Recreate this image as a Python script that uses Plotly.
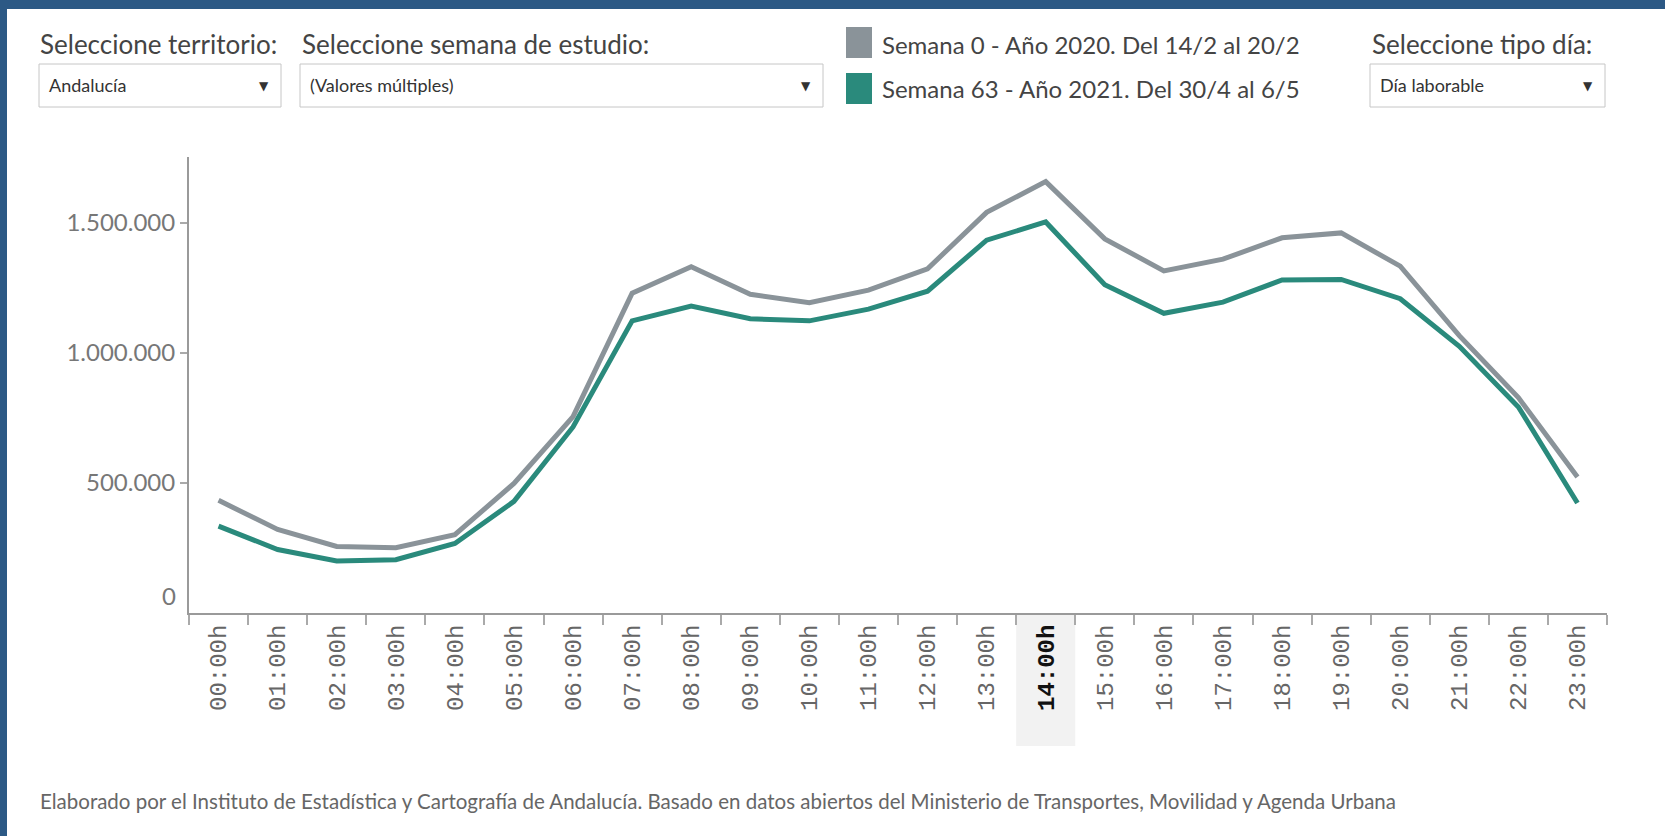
import plotly.graph_objects as go

# ---------------- data ----------------
hours = ["00:00h", "01:00h", "02:00h", "03:00h", "04:00h", "05:00h", "06:00h", "07:00h",
         "08:00h", "09:00h", "10:00h", "11:00h", "12:00h", "13:00h", "14:00h", "15:00h",
         "16:00h", "17:00h", "18:00h", "19:00h", "20:00h", "21:00h", "22:00h", "23:00h"]
highlight_hour = "14:00h"

series_names = ["Semana 0 - Año 2020. Del 14/2 al 20/2",
                "Semana 63 - Año 2021. Del 30/4 al 6/5"]

sem0 = [433000, 321000, 256000, 251000, 301000, 498000, 755000, 1229000,
        1331000, 1225000, 1193000, 1241000, 1323000, 1540000, 1658000, 1438000,
        1315000, 1360000, 1442000, 1461000, 1333000, 1066000, 828000, 523000]
sem63 = [334000, 244000, 200000, 205000, 267000, 429000, 715000, 1123000,
         1180000, 1131000, 1123000, 1168000, 1237000, 1433000, 1503000, 1262000,
         1152000, 1195000, 1280000, 1282000, 1208000, 1025000, 792000, 423000]

ytick_vals = [500000, 1000000, 1500000]
ytick_text = ["500.000", "1.000.000", "1.500.000"]
zero_label = "0"

filter_titles = ["Seleccione territorio:", "Seleccione semana de estudio:", "Seleccione tipo día:"]
filter_values = ["Andalucía", "(Valores múltiples)", "Día laborable"]
footer = ("Elaborado por el Instituto de Estadística y Cartografía de Andalucía. "
          "Basado en datos abiertos del Ministerio de Transportes, Movilidad y Agenda Urbana")

# ---------------- styling ----------------
W, H = 1665, 836
ML, MR, MT, MB = 189, 58, 157, 223
PW, PH = W - ML - MR, H - MT - MB

COL0 = "#8a9399"
COL63 = "#2a8a7c"
BLUE = "#2c5985"
NARROW = "Liberation Sans Narrow, Arial Narrow, Lato, sans-serif"
UI = "Lato, Liberation Sans, sans-serif"
MONO = "Liberation Mono, DejaVu Sans Mono, monospace"


def px(x):
    return (x - ML) / PW


def py(y):
    return (MT + PH - y) / PH


fig = go.Figure()
fig.add_trace(go.Scatter(x=hours, y=sem0, mode="lines", name=series_names[0],
                         line=dict(color=COL0, width=5), showlegend=False))
fig.add_trace(go.Scatter(x=hours, y=sem63, mode="lines", name=series_names[1],
                         line=dict(color=COL63, width=5), showlegend=False))

ticktext = [f"<b><span style='color:#111'>{h}</span></b>" if h == highlight_hour else h for h in hours]

shapes = []
annotations = []

# dark blue frame (top and left)
shapes.append(dict(type="rect", xref="paper", yref="paper", x0=px(0), x1=px(W), y0=py(9), y1=py(0),
                   fillcolor=BLUE, line=dict(width=0), layer="below"))
shapes.append(dict(type="rect", xref="paper", yref="paper", x0=px(0), x1=px(7), y0=py(H), y1=py(0),
                   fillcolor=BLUE, line=dict(width=0), layer="below"))

# highlighted column behind selected hour label
hi = hours.index(highlight_hour)
shapes.append(dict(type="rect", xref="x", yref="paper", x0=hi - 0.5, x1=hi + 0.5, y0=py(746), y1=py(614),
                   fillcolor="#f2f2f2", line=dict(width=0), layer="below"))

# filter titles and dropdown boxes
title_x = [38, 300, 1370]
box_x = [(39, 281), (300, 823), (1370, 1605)]
for t, tx, (bx0, bx1), val in zip(filter_titles, title_x, box_x, filter_values):
    annotations.append(dict(text=t, xref="paper", yref="paper", x=px(tx), y=py(44), xanchor="left",
                            yanchor="middle", showarrow=False, font=dict(family=UI, size=26, color="#444")))
    shapes.append(dict(type="rect", xref="paper", yref="paper", x0=px(bx0), x1=px(bx1), y0=py(107), y1=py(64),
                       fillcolor="white", line=dict(color="#c6c6c6", width=1)))
    annotations.append(dict(text=val, xref="paper", yref="paper", x=px(bx0 + 8), y=py(85), xanchor="left",
                            yanchor="middle", showarrow=False, font=dict(family=UI, size=18, color="#333")))
    annotations.append(dict(text="▼", xref="paper", yref="paper", x=px(bx1 - 17), y=py(86), xanchor="center",
                            yanchor="middle", showarrow=False, font=dict(family="DejaVu Sans", size=12, color="#333")))

# legend
for name, col, ytop, ybot, yc in [(series_names[0], COL0, 27, 58, 44), (series_names[1], COL63, 73, 104, 89)]:
    shapes.append(dict(type="rect", xref="paper", yref="paper", x0=px(846), x1=px(872), y0=py(ybot), y1=py(ytop),
                       fillcolor=col, line=dict(width=0)))
    annotations.append(dict(text=name, xref="paper", yref="paper", x=px(880), y=py(yc), xanchor="left",
                            yanchor="middle", showarrow=False, font=dict(family=UI, size=24, color="#444")))

# zero label (shifted above the axis line)
annotations.append(dict(text=zero_label, xref="paper", yref="paper", x=px(178), y=py(595), xanchor="right",
                        yanchor="middle", showarrow=False, font=dict(family=NARROW, size=24, color="#777")))

# footer
annotations.append(dict(text=footer, xref="paper", yref="paper", x=px(38), y=py(801), xanchor="left",
                        yanchor="middle", showarrow=False, font=dict(family=UI, size=20.5, color="#666")))

fig.update_layout(
    width=W, height=H,
    margin=dict(l=ML, r=MR, t=MT, b=MB, pad=0),
    paper_bgcolor="white", plot_bgcolor="white",
    shapes=shapes, annotations=annotations,
    xaxis=dict(type="category", range=[-0.5, len(hours) - 0.5], tickmode="array", tickvals=hours,
               ticktext=ticktext, tickangle=-90, tickson="boundaries", ticks="outside", ticklen=10,
               tickcolor="#aaaaaa", tickwidth=1.5, showline=True, linecolor="#9a9a9a", linewidth=2,
               showgrid=False, zeroline=False,
               tickfont=dict(family=MONO, size=24, color="#666")),
    yaxis=dict(range=[0, 1752700], tickmode="array", tickvals=ytick_vals, ticktext=ytick_text,
               ticks="outside", ticklen=7, tickcolor="#aaaaaa", tickwidth=1.5, showline=True,
               linecolor="#9a9a9a", linewidth=2, showgrid=False, zeroline=False,
               tickfont=dict(family=NARROW, size=24, color="#777")),
    hovermode=False,
)

fig.write_html("out.html",
               config={"displayModeBar": False},
               post_script="document.body.style.margin='0';document.body.style.overflow='hidden';")
